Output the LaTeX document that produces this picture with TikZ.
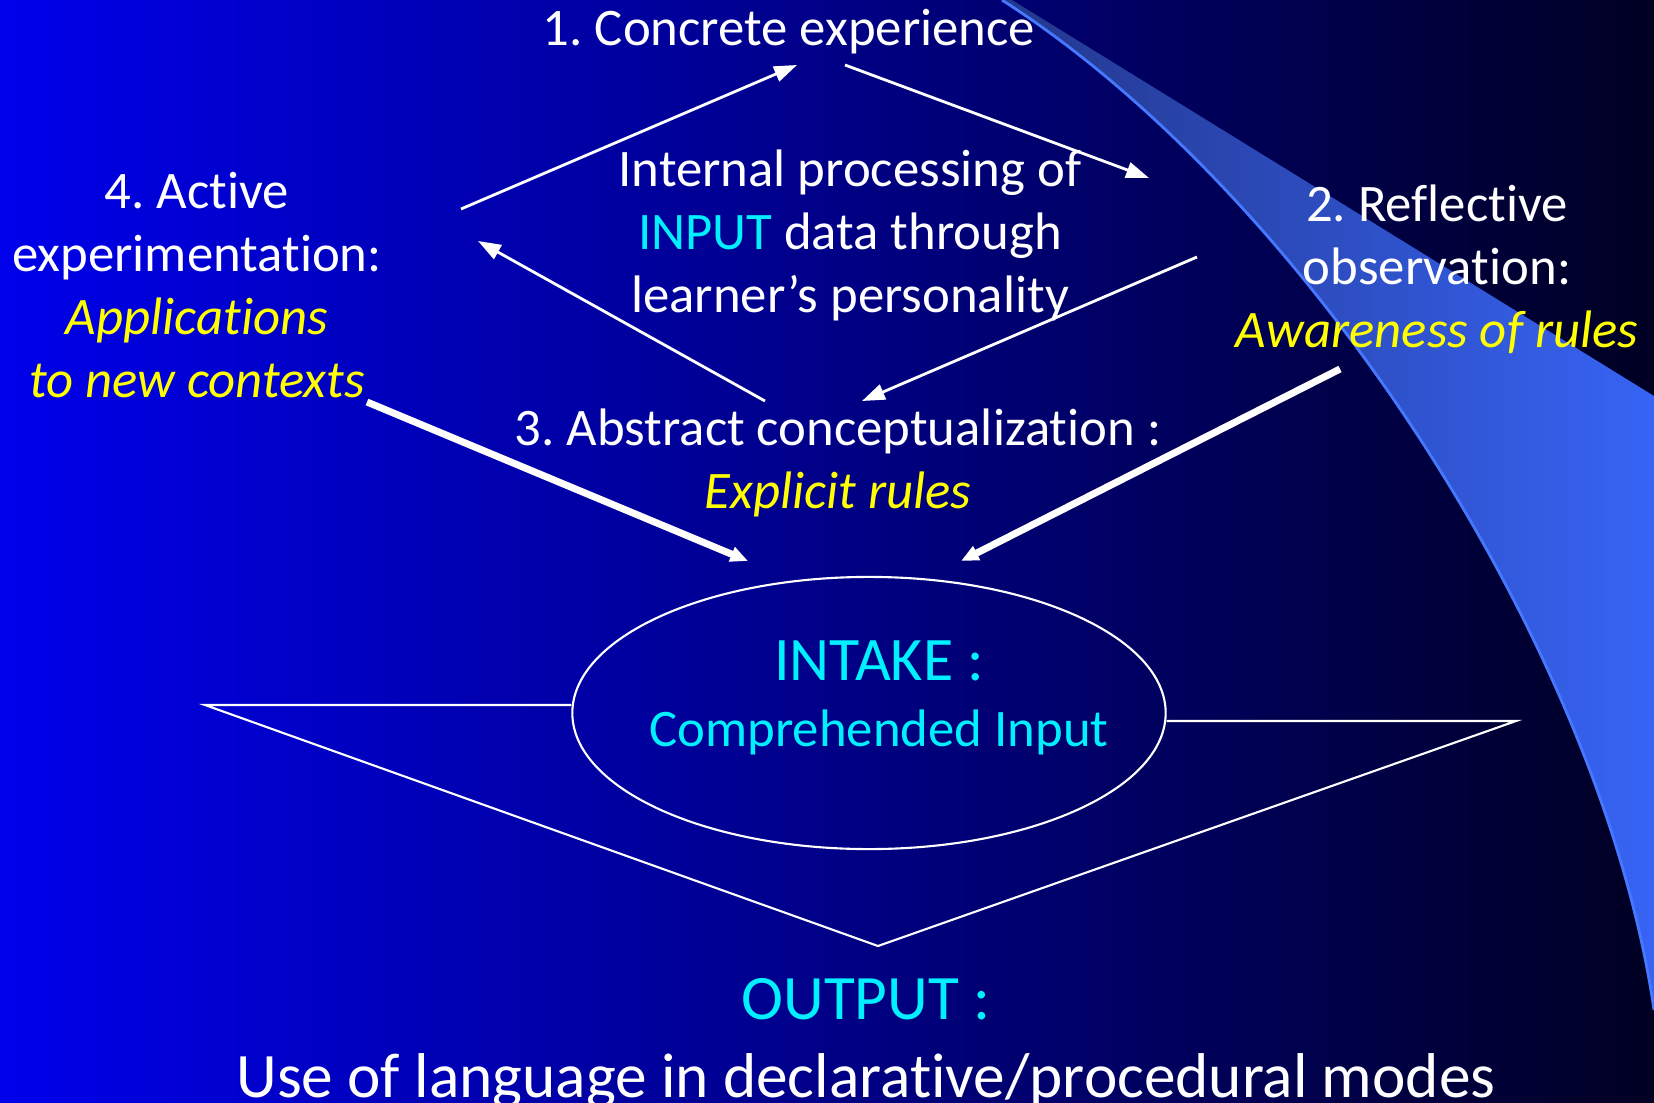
\documentclass[tikz,border=0pt]{standalone}
\usepackage{fontspec}
\setmainfont{Carlito}[Ligatures=NoCommon]
\usepackage{xcolor}
\usetikzlibrary{shapes.geometric}
\usetikzlibrary{arrows.meta,calc}
\frenchspacing

\definecolor{slideblue}{RGB}{0,0,235}
\definecolor{slidenavy}{RGB}{0,0,35}
\definecolor{swooshdark}{RGB}{35,55,140}
\definecolor{swooshlight}{RGB}{55,100,245}
\definecolor{swooshedge}{RGB}{70,120,255}
\definecolor{hilite}{RGB}{255,255,0}
\definecolor{aqua}{RGB}{0,240,255}

\begin{document}
\begin{tikzpicture} [
       x=0.01cm, y=-0.01cm,
       texte/.style={text=white, align=center, inner sep=0pt,
               font=\fontsize{15}{17.9}\selectfont},
       grand/.style={text=white, align=center, inner sep=0pt,
               font=\fontsize{18}{22.2}\selectfont},
       bulle/.style={ellipse, draw=white, line width=0.6pt,
               minimum width=5.93cm, minimum height=2.72cm, inner sep=0pt},
       cycleline/.style={draw=white, line width=0.8pt, -{Triangle[length=6.5pt,width=4.5pt]}},
       feedline/.style={draw=white, line width=2pt, -{Triangle[length=5pt,width=4.2pt]}},
       frame/.style={draw=white, line width=0.6pt},
       ]
       \useasboundingbox (0,0) rectangle (1654,1103);
       % fond
       \shade[left color=slideblue, right color=slidenavy] (0,0) rectangle (1654,1103);
       \shade[left color=swooshdark, right color=swooshlight]
               (1002,0) .. controls (1308,196) and (1602,651) .. (1654,1010)
               -- (1654,396) -- (1012,0) -- cycle;
       \draw[swooshedge, line width=0.8pt]
               (1002,0) .. controls (1308,196) and (1602,651) .. (1654,1010);

       \node (concrete) [texte] at (789,32) {1. Concrete experience};
       \node (internal) [texte] at (850,235) {Internal processing of\\
               {\color{aqua}INPUT} data through\\ learner’s personality};
       \node (active) [texte] at (197,285) {4. Active\\ experimentation:\\
               {\itshape\color{hilite}Applications}\\ {\itshape\color{hilite}to new contexts}};
       \node (reflective) [texte] at (1437,269) {2. Reflective\\ observation:\\
               {\itshape\color{hilite}Awareness of rules}};
       \node (abstract) [texte] at (838,463) {3. Abstract conceptualization :\\
               {\itshape\color{hilite}Explicit rules}};

       \node (intake) [bulle] at (869,713) {};
       \node (intaketext) [texte, text=aqua] at ($(intake)+(10,-15)$)
               {{\fontsize{17.6}{20}\selectfont INTAKE :}\\[1pt] Comprehended Input};
       \node (output) [grand] at (866,1043) {{\color{aqua}OUTPUT :}\\
               Use of language in declarative/procedural modes};

       \coordinate (tipL) at (205,705);
       \coordinate (tipB) at (878,946);
       \coordinate (tipR) at (1516,721);
       \draw[frame] ($(intake.west)+(0,-8)$) -- (tipL) -- (tipB) -- (tipR)
               -- ($(intake.east)+(0,8)$);

       \coordinate (c41) at (461,209);  \coordinate (c14) at (797,65);
       \coordinate (c12) at (845,65);   \coordinate (c21) at (1149,178);
       \coordinate (c23) at (1197,257); \coordinate (c32) at (862,401);
       \coordinate (c34) at (765,401);  \coordinate (c43) at (478,241);
       \coordinate (f4) at (367,402);   \coordinate (f4i) at (748,561);
       \coordinate (f2) at (1340,369);  \coordinate (f2i) at (961,561);
        \begin{scope}[every path/.style=cycleline]
        \path (c41) -- (c14);
        \path (c12) -- (c21);
        \path (c23) -- (c32);
        \path (c34) -- (c43);
        \end{scope}
        \begin{scope}[every path/.style=feedline]
        \path (f4) -- (f4i);
        \path (f2) -- (f2i);
        \end{scope}
\end{tikzpicture}
\end{document}
